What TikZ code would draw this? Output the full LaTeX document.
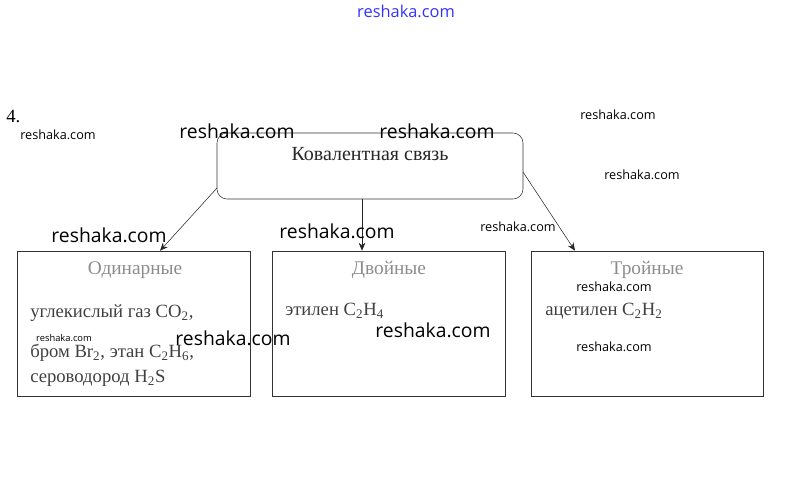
\documentclass[tikz,border=0pt]{standalone}
\usepackage{fontspec}
\setmainfont{Liberation Serif}
\newfontfamily\wmfont{Open Sans}
\usepackage{tikz}
\usetikzlibrary{positioning, arrows.meta}

\newcommand{\chemsub}[1]{\textsubscript{#1}}

\tikzset{
  groupbox/.style={draw=black!80, minimum width=174.75pt, minimum height=108.75pt, inner sep=0pt},
  titletext/.style={font=\fontsize{14.5}{16}\selectfont, text=black!45},
  bodytext/.style={font=\fontsize{14}{16}\selectfont, text=black!75, anchor=west, inner sep=0pt},
  link/.style={-{Stealth[length=6pt,width=5pt]}, black!85, thin},
  wmbig/.style={font=\wmfont\fontsize{14.5}{16}\selectfont, text=black},
  wmsmall/.style={font=\wmfont\fontsize{9.5}{11}\selectfont, text=black},
}

\begin{document}
\begin{tikzpicture}[x=0.75pt, y=-0.75pt]
  \useasboundingbox (0,0) rectangle (809,500);

  % ── Task number ──
  \node[font=\fontsize{14}{16}\selectfont, anchor=west, inner sep=0pt] (num) at (6,116) {4.};

  % ── Top box ──
  \node[draw=black!80, rounded corners=7.5pt, minimum width=229.5pt, minimum height=49.5pt, inner sep=0pt]
    (bond) at (370,166) {};
  \node[font=\fontsize{15}{17}\selectfont, text=black!85] (bondtxt) at (370,154) {Ковалентная связь};

  % ── Three kinds ──
  \node[groupbox] (single) at (133.5,323.5) {};
  \node[groupbox] (double) at (388.5,323.5) {};
  \node[groupbox, minimum width=174pt] (triple) at (647,323.5) {};

  \node[titletext] (singlet) at (135,270) {Одинарные};
  \node[titletext] (doublet) at (389,270) {Двойные};
  \node[titletext] (triplet) at (647,270) {Тройные};

  \node[bodytext] (s1) at (30,313) {углекислый газ CO\chemsub{2},};
  \node[bodytext] (s2) at (30,353) {бром Br\chemsub{2}, этан C\chemsub{2}H\chemsub{6},};
  \node[bodytext] (s3) at (30,378) {сероводород H\chemsub{2}S};
  \node[bodytext] (d1) at (285,311) {этилен C\chemsub{2}H\chemsub{4}};
  \node[bodytext] (t1) at (545,311) {ацетилен C\chemsub{2}H\chemsub{2}};

  % Arrows from top box
  \coordinate (lstart) at (217,188);
  \coordinate (rstart) at (523,172);
  \draw[link] (lstart) -- (single.north -| 160,0);
  \draw[link] (bond.south -| 362,0) -- (double.north -| 362,0);
  \draw[link] (rstart) -- (triple.north -| 575,0);

  % ── Watermarks ──
  \node[font=\wmfont\fontsize{12.3}{14}\selectfont, text=blue!80] (wmtop) at (406,11) {reshaka.com};
  \foreach \x/\y [count=\k] in {237/131, 437/131, 109/235, 337/231, 233/338, 433/330}
    \node[wmbig] (wmb\k) at (\x,\y) {reshaka.com};
  \foreach \x/\y [count=\k] in {58/135, 618/115, 642/175, 518/227, 614/287, 614/347}
    \node[wmsmall] (wms\k) at (\x,\y) {reshaka.com};
  \node[font=\wmfont\fontsize{7}{8}\selectfont] (wmtiny) at (64,338) {reshaka.com};
\end{tikzpicture}
\end{document}
